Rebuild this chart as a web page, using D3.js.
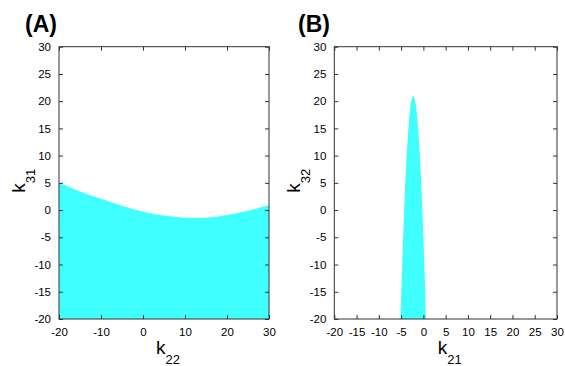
<!DOCTYPE html>
<html>
<head>
<meta charset="utf-8">
<script src="https://cdn.jsdelivr.net/npm/d3@7"></script>
<style>
  body { margin: 0; background: #fff; }
  svg { display: block; font-family: "Liberation Sans", Arial, sans-serif; }
</style>
</head>
<body>
<div id="chart"></div>
<script>
'use strict';

// panel A: upper boundary of the feasible region, k31 as a function of k22
const k22 = [-20, -15, -10, -5, 0, 5, 10, 15, 20, 25, 30];
const k31Upper = [5.0, 3.4, 2.1, 0.8, -0.3, -1.0, -1.4, -1.4, -0.9, -0.1, 0.9];

// panel B: left / right boundaries in k21 for each level of k32
const k32Levels = [-20, -15, -10, -5, 0, 5, 10, 15, 18, 20, 21];
const k21Left = [-5.12, -4.94, -4.75, -4.54, -4.31, -4.05, -3.75, -3.36, -3.04, -2.72, -2.27];
const k21Right = [0.58, 0.40, 0.21, 0.0, -0.23, -0.49, -0.79, -1.18, -1.50, -1.83, -2.27];

const ticksA_x = [-20, -10, 0, 10, 20, 30];
const ticksB_x = [-20, -15, -10, -5, 0, 5, 10, 15, 20, 25, 30];
const ticksY = [-20, -15, -10, -5, 0, 5, 10, 15, 20, 25, 30];

const width = 565, height = 366;
const fill = '#3fffff';
const frame = '#333';

const svg = d3.select('#chart').append('svg')
    .attr('width', width)
    .attr('height', height);

function panel(opts) {
    const x = d3.scaleLinear().domain([-20, 30]).range([opts.left, opts.right]);
    const y = d3.scaleLinear().domain([-20, 30]).range([319, 46.7]);
    const g = svg.append('g');

    // filled region
    g.append('path')
        .attr('d', opts.shape(x, y))
        .attr('fill', fill);

    // frame with inward ticks on all four sides (plain hyphen for minus, like the original)
    const tick = 4;
    const fmt = d => String(d);
    const font = '11.5px "Liberation Sans", Arial, sans-serif';
    g.append('g')
        .attr('transform', `translate(0,${y(-20)})`)
        .style('font', font)
        .call(d3.axisBottom(x).tickValues(opts.xticks).tickSize(-tick).tickPadding(9).tickFormat(fmt))
        .call(a => a.select('.domain').remove());
    g.append('g')
        .attr('transform', `translate(0,${y(30)})`)
        .call(d3.axisTop(x).tickValues(opts.xticks).tickSize(-tick).tickFormat(''))
        .call(a => a.select('.domain').remove());
    g.append('g')
        .attr('transform', `translate(${x(-20)},0)`)
        .style('font', font)
        .call(d3.axisLeft(y).tickValues(ticksY).tickSize(-tick).tickPadding(8).tickFormat(fmt))
        .call(a => a.select('.domain').remove());
    g.append('g')
        .attr('transform', `translate(${x(30)},0)`)
        .call(d3.axisRight(y).tickValues(ticksY).tickSize(-tick).tickFormat(''))
        .call(a => a.select('.domain').remove());
    g.selectAll('.tick line').attr('stroke', frame);
    g.selectAll('.tick text').attr('fill', '#000');

    g.append('rect')
        .attr('x', x(-20))
        .attr('y', y(30))
        .attr('width', x(30) - x(-20))
        .attr('height', y(-20) - y(30))
        .attr('fill', 'none')
        .attr('stroke', frame)
        .attr('stroke-width', 1);

    // x label with subscript
    const cx = (x(-20) + x(30)) / 2 + 4;
    const xl = g.append('text')
        .attr('x', cx)
        .attr('y', 354)
        .attr('text-anchor', 'middle')
        .style('font-size', '19px');
    xl.append('tspan').text('k');
    xl.append('tspan').attr('dy', 10).style('font-size', '13px').text(opts.xsub);

    // y label with subscript, rotated
    const cy = (y(-20) + y(30)) / 2 - 2;
    const yl = g.append('text')
        .attr('transform', `translate(${opts.left - 34},${cy}) rotate(-90)`)
        .attr('text-anchor', 'middle')
        .style('font-size', '19px');
    yl.append('tspan').text('k');
    yl.append('tspan').attr('dy', 10).style('font-size', '13px').text(opts.ysub);

    // panel letter
    g.append('text')
        .attr('x', opts.titleX)
        .attr('y', 32)
        .style('font-size', '23px')
        .style('font-weight', 'bold')
        .text(opts.title);
}

panel({
    left: 59, right: 269,
    xticks: ticksA_x,
    xsub: '22', ysub: '31',
    title: '(A)', titleX: 25,
    shape: (x, y) => d3.area()
        .x(d => x(d[0]))
        .y0(y(-20))
        .y1(d => y(d[1]))
        .curve(d3.curveNatural)(k22.map((v, i) => [v, k31Upper[i]]))
});

panel({
    left: 334.3, right: 557,
    xticks: ticksB_x,
    xsub: '21', ysub: '32',
    title: '(B)', titleX: 298,
    shape: (x, y) => {
        // go up the left boundary, then back down the right one
        const up = k32Levels.map((v, i) => [k21Left[i], v]);
        const down = k32Levels.map((v, i) => [k21Right[i], v]).reverse().slice(1);
        return d3.line()
            .x(d => x(d[0]))
            .y(d => y(d[1]))
            .curve(d3.curveCatmullRom)(up.concat(down)) + 'Z';
    }
});
</script>
</body>
</html>
